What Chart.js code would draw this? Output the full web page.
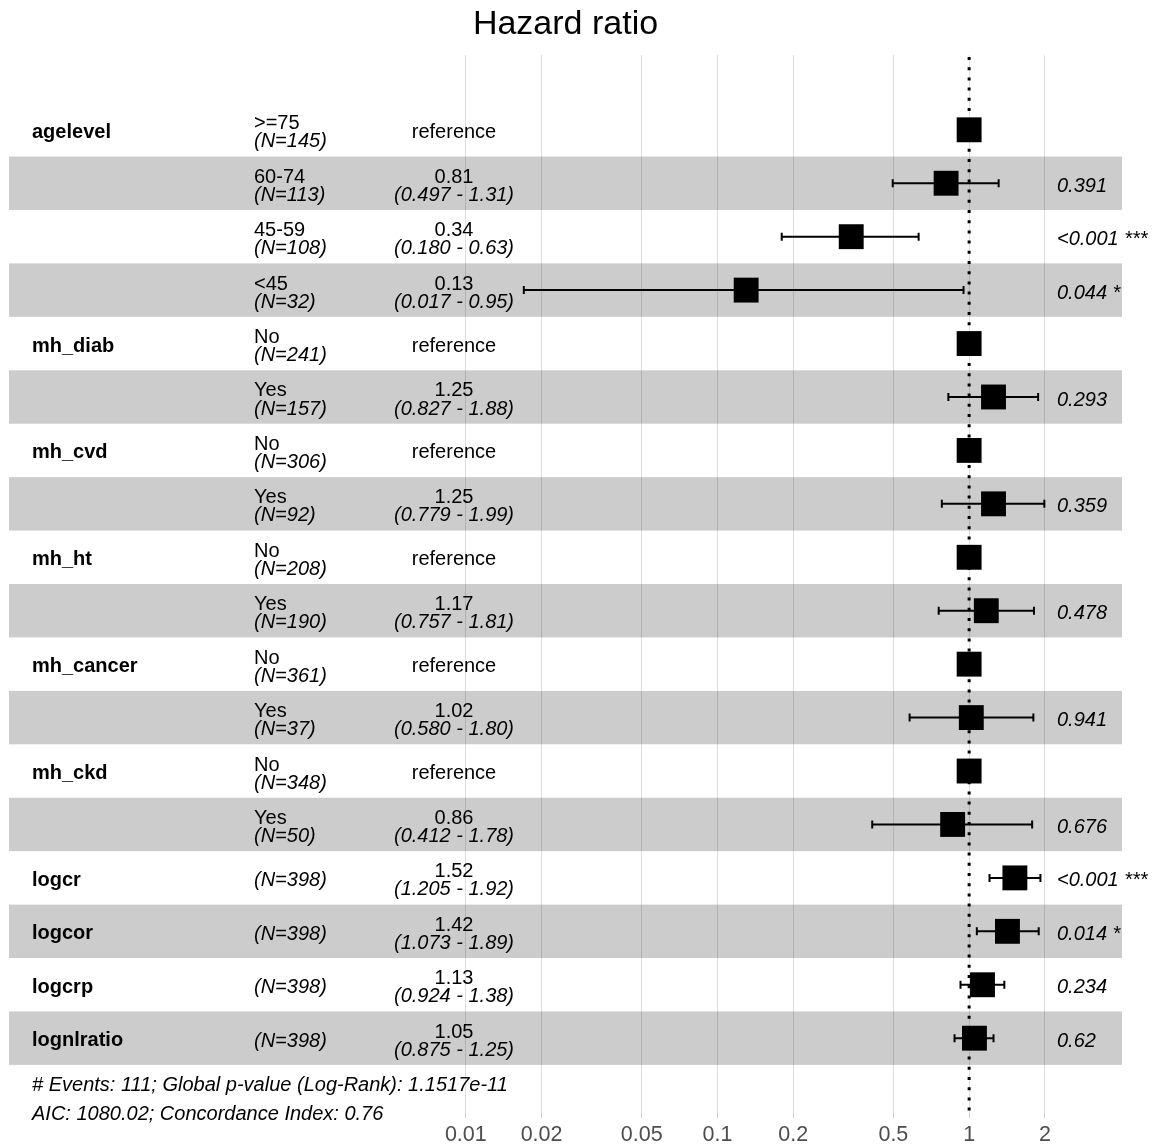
<!DOCTYPE html>
<html>
<head>
<meta charset="utf-8">
<title>Hazard ratio</title>
<script src="https://cdn.jsdelivr.net/npm/chart.js@4/dist/chart.umd.min.js"></script>
<style>
  html, body { margin: 0; padding: 0; background: #ffffff; }
  #wrap { width: 1165px; height: 1148px; }
</style>
</head>
<body>
<div id="wrap"><canvas id="forest" width="1165" height="1148"></canvas></div>
<script>
// Cox model terms, one entry per row (top to bottom)
const VARIABLES = ['agelevel', '', '', '', 'mh_diab', '', 'mh_cvd', '', 'mh_ht', '', 'mh_cancer', '', 'mh_ckd', '', 'logcr', 'logcor', 'logcrp', 'lognlratio'];
const LEVELS = ['>=75', '60-74', '45-59', '<45', 'No', 'Yes', 'No', 'Yes', 'No', 'Yes', 'No', 'Yes', 'No', 'Yes', '', '', '', ''];
const N_OBS = [145, 113, 108, 32, 241, 157, 306, 92, 208, 190, 361, 37, 348, 50, 398, 398, 398, 398];
const IS_REFERENCE = [true, false, false, false, true, false, true, false, true, false, true, false, true, false, false, false, false, false];
const HAZARD_RATIO = [1, 0.81, 0.34, 0.13, 1, 1.25, 1, 1.25, 1, 1.17, 1, 1.02, 1, 0.86, 1.52, 1.42, 1.13, 1.05];
const CI_LOWER = [null, 0.497, 0.180, 0.017, null, 0.827, null, 0.779, null, 0.757, null, 0.580, null, 0.412, 1.205, 1.073, 0.924, 0.875];
const CI_UPPER = [null, 1.31, 0.63, 0.95, null, 1.88, null, 1.99, null, 1.81, null, 1.80, null, 1.78, 1.92, 1.89, 1.38, 1.25];
const P_VALUES = ['', '0.391', '<0.001 ***', '0.044 *', '', '0.293', '', '0.359', '', '0.478', '', '0.941', '', '0.676', '<0.001 ***', '0.014 *', '0.234', '0.62'];
const FOOTNOTES = ['# Events: 111; Global p-value (Log-Rank): 1.1517e-11', 'AIC: 1080.02; Concordance Index: 0.76'];
const TICK_VALUES = [0.01, 0.02, 0.05, 0.1, 0.2, 0.5, 1, 2];
const TICK_LABELS = ['0.01', '0.02', '0.05', '0.1', '0.2', '0.5', '1', '2'];
const TITLE = 'Hazard ratio';

const FONT = '"Liberation Sans", Arial, Helvetica, sans-serif';
Chart.defaults.font.family = FONT;

const points = HAZARD_RATIO.map((hr, i) => ({ x: hr, y: i }));

// Striped rows, dotted reference line at HR = 1, confidence interval whiskers
const forestPlugin = {
  id: 'forestTable',
  beforeDatasetsDraw(chart) {
    const { ctx, chartArea: a, scales: { x, y } } = chart;
    ctx.save();

    ctx.fillStyle = 'rgba(0,0,0,0.2)';
    for (let i = 1; i < VARIABLES.length; i += 2) {
      const top = y.getPixelForValue(i - 0.5);
      const bottom = y.getPixelForValue(i + 0.5);
      ctx.fillRect(a.left, top, a.right - a.left, bottom - top);
    }

    const x1 = x.getPixelForValue(1);
    ctx.strokeStyle = '#000000';
    ctx.lineWidth = 3;
    ctx.setLineDash([3, 7.2]);
    ctx.beginPath();
    ctx.moveTo(x1, a.top + 2);
    ctx.lineTo(x1, a.bottom);
    ctx.stroke();
    ctx.setLineDash([]);

    ctx.lineWidth = 2;
    for (let i = 0; i < HAZARD_RATIO.length; i++) {
      if (CI_LOWER[i] == null) continue;
      const yp = y.getPixelForValue(i);
      const xl = x.getPixelForValue(CI_LOWER[i]);
      const xu = x.getPixelForValue(CI_UPPER[i]);
      ctx.beginPath();
      ctx.moveTo(xl, yp); ctx.lineTo(xu, yp);
      ctx.moveTo(xl, yp - 4); ctx.lineTo(xl, yp + 4);
      ctx.moveTo(xu, yp - 4); ctx.lineTo(xu, yp + 4);
      ctx.stroke();
    }
    ctx.restore();
  },
  afterDraw(chart) {
    const { ctx, chartArea: a, scales: { y } } = chart;
    const colName = a.left + 23;
    const colLevel = a.left + 245;
    const colEst = a.left + 445;
    const colP = a.left + 1048;
    ctx.save();
    ctx.fillStyle = '#000000';
    ctx.textBaseline = 'middle';

    for (let i = 0; i < VARIABLES.length; i++) {
      const yp = y.getPixelForValue(i);

      if (VARIABLES[i]) {
        ctx.font = `bold 20px ${FONT}`;
        ctx.textAlign = 'left';
        ctx.fillText(VARIABLES[i], colName, yp + 2.5);
      }

      ctx.textAlign = 'left';
      const nText = `(N=${N_OBS[i]})`;
      if (LEVELS[i]) {
        ctx.font = `20px ${FONT}`;
        ctx.fillText(LEVELS[i], colLevel, yp - 6);
        ctx.font = `italic 20px ${FONT}`;
        ctx.fillText(nText, colLevel, yp + 12);
      } else {
        ctx.font = `italic 20px ${FONT}`;
        ctx.fillText(nText, colLevel, yp + 3);
      }

      ctx.textAlign = 'center';
      if (IS_REFERENCE[i]) {
        ctx.font = `20px ${FONT}`;
        ctx.fillText('reference', colEst, yp + 2.5);
      } else {
        ctx.font = `20px ${FONT}`;
        ctx.fillText(HAZARD_RATIO[i].toFixed(2), colEst, yp - 6);
        ctx.font = `italic 20px ${FONT}`;
        ctx.fillText(`(${CI_LOWER[i].toFixed(3)} - ${CI_UPPER[i].toFixed(2)})`, colEst, yp + 12);
      }

      if (P_VALUES[i]) {
        ctx.textAlign = 'left';
        ctx.font = `italic 20px ${FONT}`;
        ctx.fillText(P_VALUES[i], colP, yp + 3);
      }
    }

    const last = y.getPixelForValue(VARIABLES.length - 1);
    ctx.textAlign = 'left';
    ctx.font = `italic 20px ${FONT}`;
    ctx.fillText(FOOTNOTES[0], colName, last + 47.5);
    ctx.fillText(FOOTNOTES[1], colName, last + 76);
    ctx.restore();
  }
};

new Chart(document.getElementById('forest'), {
  type: 'scatter',
  data: {
    datasets: [{
      data: points,
      pointStyle: 'rect',
      pointRadius: 17.6,
      pointHoverRadius: 17.6,
      backgroundColor: '#000000',
      borderWidth: 0
    }]
  },
  options: {
    responsive: false,
    animation: false,
    events: [],
    layout: { autoPadding: false, padding: { left: 9, right: 43, top: 0, bottom: 0 } },
    plugins: {
      legend: { display: false },
      tooltip: { enabled: false },
      title: {
        display: true,
        text: TITLE,
        color: '#000000',
        font: { size: 34, weight: 'normal', family: FONT },
        padding: { top: 4, bottom: 10.2 }
      }
    },
    scales: {
      x: {
        type: 'logarithmic',
        min: 1.53e-4,
        max: 4.05,
        bounds: 'data',
        afterBuildTicks: (scale) => { scale.ticks = TICK_VALUES.map(v => ({ value: v })); },
        afterFit: (scale) => { scale.paddingLeft = 0; scale.paddingRight = 0; scale.height = 35; },
        grid: { color: '#dedede', lineWidth: 1, drawTicks: true, tickLength: 5, tickColor: '#d0d0d0' },
        border: { display: false },
        ticks: {
          autoSkip: false,
          maxRotation: 0,
          padding: 4,
          color: '#4d4d4d',
          font: { size: 21.5, family: FONT },
          callback: (value) => {
            const k = TICK_VALUES.findIndex(t => Math.abs(t - value) < 1e-9);
            return k >= 0 ? TICK_LABELS[k] : '';
          }
        }
      },
      y: {
        type: 'linear',
        display: false,
        reverse: true,
        min: -1.4,
        max: 18.4
      }
    }
  },
  plugins: [forestPlugin]
});
</script>
</body>
</html>
